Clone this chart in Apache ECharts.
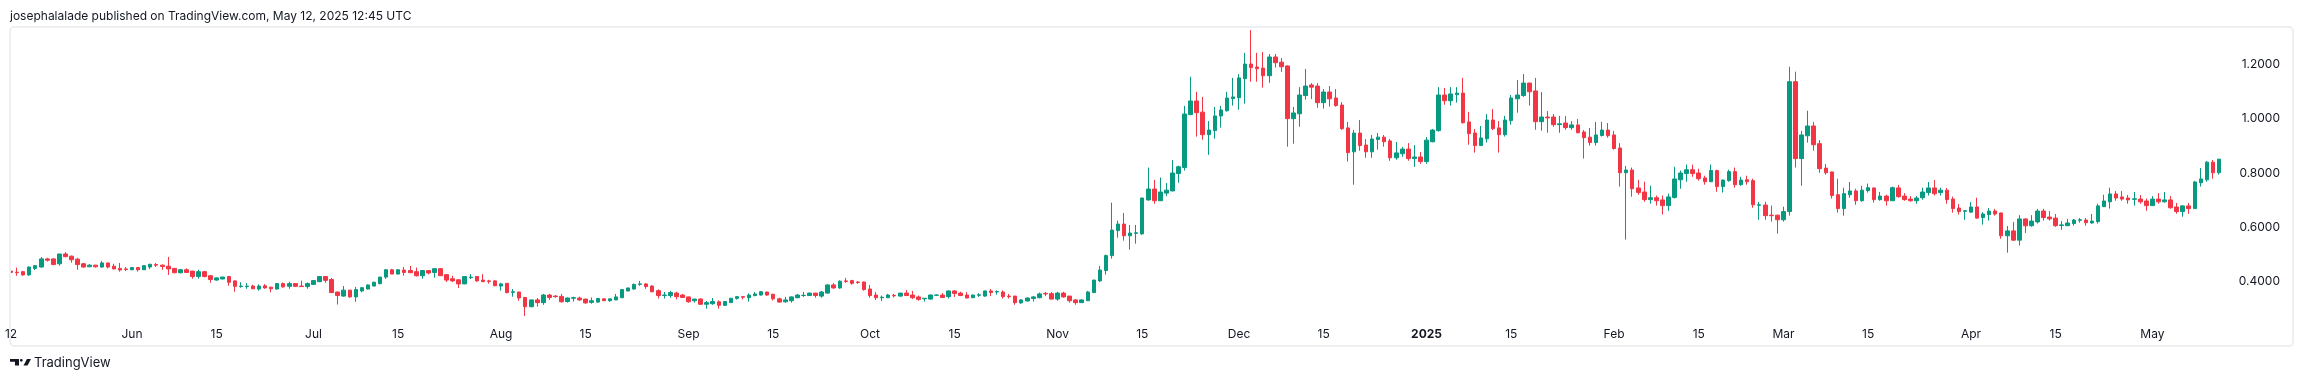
<!DOCTYPE html>
<html><head><meta charset="utf-8">
<script src="https://cdn.jsdelivr.net/npm/echarts@6/dist/echarts.min.js"></script>
<style>html,body{margin:0;padding:0;background:#fff}#c{width:2304px;height:382px}</style>
</head><body><div id="c"></div>
<script>
// Daily candles, 2024-05-12 .. 2025-05-12
const startDate = '2024-05-12';
const open = [
0.439,0.435,0.437,0.425,0.449,0.454,0.484,0.484,0.466,0.502,
0.494,0.483,0.466,0.455,0.461,0.454,0.469,0.457,0.449,0.447,
0.444,0.452,0.444,0.454,0.463,0.461,0.457,0.449,0.433,0.444,
0.439,0.419,0.437,0.422,0.406,0.410,0.419,0.403,0.382,0.382,
0.384,0.373,0.385,0.380,0.373,0.393,0.383,0.393,0.384,0.382,
0.390,0.400,0.419,0.408,0.362,0.347,0.369,0.344,0.366,0.373,
0.384,0.393,0.417,0.444,0.428,0.443,0.441,0.437,0.422,0.441,
0.434,0.448,0.426,0.411,0.407,0.392,0.415,0.419,0.406,0.403,
0.403,0.384,0.394,0.361,0.362,0.342,0.308,0.333,0.323,0.351,
0.347,0.346,0.327,0.339,0.340,0.336,0.324,0.325,0.337,0.330,
0.333,0.341,0.366,0.373,0.390,0.392,0.384,0.367,0.349,0.349,
0.358,0.351,0.344,0.330,0.336,0.317,0.319,0.326,0.313,0.323,
0.339,0.345,0.341,0.349,0.351,0.362,0.354,0.337,0.326,0.330,
0.341,0.349,0.349,0.358,0.347,0.358,0.388,0.377,0.403,0.404,
0.399,0.399,0.373,0.351,0.341,0.341,0.350,0.347,0.358,0.351,
0.344,0.337,0.336,0.350,0.351,0.345,0.366,0.358,0.351,0.341,
0.350,0.347,0.366,0.362,0.362,0.347,0.347,0.322,0.329,0.338,
0.341,0.357,0.356,0.336,0.358,0.347,0.333,0.323,0.330,0.360,
0.403,0.441,0.496,0.588,0.612,0.569,0.578,0.576,0.701,0.741,
0.698,0.726,0.734,0.798,0.820,1.015,1.065,1.024,0.941,0.956,
1.010,1.029,1.074,1.077,1.147,1.201,1.190,1.186,1.158,1.227,
1.208,1.194,1.000,1.018,1.085,1.124,1.120,1.059,1.098,1.076,
1.050,0.966,0.878,0.947,0.903,0.878,0.923,0.932,0.918,0.856,
0.871,0.888,0.853,0.859,0.842,0.915,0.956,1.087,1.066,1.088,
1.094,0.988,0.947,0.901,0.926,0.995,0.966,0.941,0.993,1.073,
1.085,1.131,1.102,0.989,1.006,1.006,0.978,0.984,0.967,0.977,
0.951,0.932,0.912,0.938,0.958,0.940,0.892,0.801,0.811,0.745,
0.730,0.702,0.709,0.701,0.680,0.710,0.775,0.798,0.812,0.800,
0.782,0.768,0.809,0.750,0.772,0.805,0.757,0.775,0.772,0.681,
0.682,0.645,0.645,0.628,0.658,1.136,0.853,0.937,0.973,0.908,
0.818,0.804,0.720,0.669,0.720,0.734,0.698,0.735,0.745,0.702,
0.715,0.698,0.745,0.715,0.704,0.698,0.709,0.728,0.745,0.728,
0.737,0.704,0.671,0.659,0.656,0.675,0.636,0.647,0.660,0.653,
0.569,0.587,0.553,0.631,0.606,0.620,0.660,0.638,0.634,0.607,
0.606,0.614,0.626,0.627,0.616,0.621,0.676,0.694,0.723,0.712,
0.708,0.703,0.704,0.697,0.680,0.704,0.694,0.701,0.675,0.658,
0.679,0.669,0.764,0.775,0.840,0.801];
const high = [
0.440,0.452,0.440,0.456,0.461,0.491,0.488,0.486,0.502,0.509,
0.496,0.488,0.469,0.465,0.462,0.476,0.470,0.466,0.469,0.454,
0.454,0.454,0.461,0.466,0.469,0.463,0.491,0.450,0.447,0.449,
0.440,0.444,0.439,0.424,0.416,0.418,0.421,0.405,0.398,0.395,
0.389,0.390,0.391,0.381,0.395,0.397,0.400,0.395,0.404,0.397,
0.406,0.420,0.421,0.414,0.363,0.384,0.370,0.381,0.380,0.390,
0.400,0.418,0.447,0.447,0.446,0.454,0.458,0.452,0.443,0.443,
0.448,0.450,0.427,0.422,0.408,0.420,0.428,0.421,0.428,0.407,
0.405,0.396,0.395,0.373,0.363,0.344,0.334,0.340,0.355,0.355,
0.351,0.355,0.342,0.345,0.345,0.337,0.342,0.340,0.339,0.338,
0.355,0.372,0.378,0.393,0.403,0.394,0.387,0.372,0.362,0.366,
0.363,0.355,0.345,0.337,0.339,0.329,0.340,0.331,0.329,0.340,
0.347,0.346,0.357,0.362,0.366,0.363,0.355,0.341,0.344,0.346,
0.355,0.362,0.360,0.359,0.366,0.391,0.395,0.405,0.414,0.407,
0.402,0.400,0.388,0.362,0.349,0.355,0.355,0.359,0.369,0.366,
0.349,0.340,0.353,0.353,0.358,0.367,0.369,0.363,0.362,0.353,
0.358,0.367,0.373,0.368,0.368,0.355,0.348,0.335,0.342,0.347,
0.360,0.362,0.362,0.363,0.363,0.348,0.336,0.336,0.366,0.407,
0.458,0.500,0.691,0.625,0.653,0.609,0.609,0.709,0.820,0.775,
0.783,0.763,0.848,0.827,1.047,1.154,1.099,1.080,0.991,1.043,
1.047,1.099,1.150,1.164,1.242,1.326,1.242,1.245,1.238,1.238,
1.223,1.196,1.043,1.116,1.183,1.131,1.131,1.109,1.120,1.109,
1.061,0.988,0.958,0.995,0.925,0.940,0.947,0.940,0.925,0.914,
0.896,0.910,0.903,0.877,0.932,0.962,1.116,1.113,1.116,1.116,
1.150,1.025,0.962,0.973,1.017,1.035,0.991,1.010,1.087,1.142,
1.164,1.132,1.150,1.098,1.028,1.017,1.010,1.010,0.991,0.999,
0.958,0.966,0.988,0.988,0.984,0.955,0.910,0.826,0.820,0.775,
0.768,0.753,0.717,0.717,0.724,0.823,0.809,0.831,0.831,0.816,
0.790,0.831,0.812,0.776,0.812,0.820,0.786,0.790,0.779,0.694,
0.694,0.680,0.646,0.676,1.191,1.173,0.955,1.029,0.988,0.921,
0.833,0.805,0.779,0.746,0.767,0.742,0.753,0.761,0.746,0.730,
0.720,0.750,0.756,0.726,0.715,0.715,0.746,0.767,0.774,0.746,
0.745,0.713,0.686,0.664,0.693,0.709,0.656,0.671,0.668,0.654,
0.605,0.620,0.645,0.633,0.645,0.668,0.668,0.660,0.649,0.623,
0.631,0.631,0.634,0.634,0.649,0.687,0.720,0.746,0.734,0.734,
0.719,0.730,0.719,0.706,0.715,0.726,0.730,0.715,0.690,0.681,
0.690,0.771,0.818,0.844,0.848,0.852];
const low = [
0.433,0.422,0.422,0.422,0.443,0.452,0.474,0.461,0.459,0.490,
0.470,0.444,0.452,0.454,0.452,0.451,0.449,0.446,0.437,0.439,
0.442,0.437,0.443,0.447,0.454,0.444,0.425,0.431,0.430,0.432,
0.411,0.411,0.416,0.396,0.404,0.409,0.385,0.363,0.378,0.374,
0.372,0.367,0.374,0.361,0.371,0.378,0.374,0.381,0.382,0.374,
0.388,0.399,0.396,0.360,0.316,0.345,0.341,0.326,0.361,0.372,
0.383,0.390,0.410,0.428,0.427,0.422,0.432,0.419,0.411,0.427,
0.415,0.421,0.399,0.399,0.377,0.391,0.410,0.400,0.399,0.393,
0.384,0.367,0.357,0.345,0.330,0.274,0.306,0.308,0.315,0.333,
0.341,0.323,0.323,0.327,0.329,0.319,0.319,0.323,0.329,0.326,
0.332,0.340,0.364,0.371,0.385,0.374,0.361,0.338,0.338,0.341,
0.335,0.341,0.323,0.323,0.315,0.301,0.315,0.301,0.311,0.322,
0.334,0.335,0.327,0.346,0.349,0.348,0.331,0.323,0.323,0.323,
0.339,0.344,0.348,0.341,0.341,0.356,0.374,0.374,0.396,0.389,
0.392,0.367,0.341,0.333,0.329,0.340,0.342,0.345,0.348,0.336,
0.330,0.327,0.334,0.349,0.340,0.338,0.344,0.347,0.339,0.340,
0.344,0.345,0.347,0.352,0.338,0.338,0.315,0.319,0.327,0.327,
0.339,0.347,0.335,0.330,0.341,0.323,0.315,0.322,0.329,0.358,
0.399,0.426,0.485,0.562,0.551,0.518,0.540,0.573,0.698,0.687,
0.697,0.715,0.733,0.764,0.809,1.013,0.934,0.923,0.867,0.926,
0.967,1.026,1.048,1.033,1.055,1.136,1.136,1.114,1.132,1.188,
1.172,0.897,0.908,0.970,1.070,1.072,1.040,1.037,1.044,1.044,
0.959,0.842,0.757,0.882,0.856,0.856,0.886,0.897,0.845,0.849,
0.860,0.845,0.823,0.834,0.834,0.913,0.952,1.051,1.048,1.059,
0.982,0.904,0.875,0.899,0.912,0.958,0.875,0.934,0.978,1.022,
1.080,1.048,0.959,0.956,0.948,0.970,0.948,0.959,0.959,0.947,
0.853,0.901,0.901,0.934,0.930,0.886,0.750,0.555,0.713,0.720,
0.694,0.687,0.680,0.647,0.661,0.706,0.742,0.768,0.786,0.772,
0.757,0.767,0.731,0.728,0.768,0.746,0.753,0.757,0.672,0.628,
0.628,0.621,0.577,0.621,0.643,0.820,0.753,0.912,0.882,0.801,
0.794,0.706,0.654,0.643,0.709,0.683,0.694,0.728,0.691,0.698,
0.680,0.697,0.709,0.698,0.694,0.687,0.702,0.717,0.717,0.717,
0.687,0.654,0.647,0.628,0.654,0.632,0.610,0.625,0.643,0.558,
0.507,0.551,0.533,0.579,0.602,0.614,0.625,0.625,0.602,0.591,
0.605,0.606,0.617,0.606,0.614,0.614,0.675,0.669,0.698,0.698,
0.687,0.680,0.687,0.661,0.679,0.687,0.691,0.669,0.650,0.639,
0.650,0.668,0.750,0.768,0.779,0.794];
const close = [
0.434,0.433,0.425,0.454,0.459,0.484,0.479,0.463,0.502,0.492,
0.481,0.463,0.454,0.461,0.455,0.469,0.454,0.447,0.443,0.445,
0.452,0.444,0.459,0.464,0.461,0.456,0.447,0.433,0.444,0.434,
0.419,0.437,0.419,0.408,0.414,0.417,0.398,0.383,0.384,0.384,
0.374,0.384,0.377,0.374,0.393,0.381,0.393,0.383,0.382,0.393,
0.404,0.419,0.405,0.360,0.349,0.369,0.344,0.371,0.378,0.388,
0.398,0.417,0.444,0.428,0.444,0.434,0.433,0.422,0.441,0.432,
0.448,0.422,0.406,0.403,0.392,0.419,0.417,0.403,0.400,0.401,
0.385,0.392,0.360,0.363,0.340,0.308,0.333,0.323,0.351,0.342,
0.345,0.326,0.340,0.341,0.333,0.322,0.330,0.338,0.330,0.337,
0.344,0.371,0.377,0.390,0.392,0.382,0.363,0.349,0.351,0.360,
0.345,0.342,0.326,0.336,0.317,0.323,0.327,0.313,0.327,0.339,
0.345,0.343,0.351,0.355,0.363,0.351,0.337,0.325,0.333,0.344,
0.351,0.350,0.358,0.349,0.362,0.388,0.377,0.402,0.401,0.394,
0.397,0.371,0.349,0.341,0.343,0.351,0.348,0.358,0.349,0.341,
0.335,0.339,0.351,0.351,0.342,0.366,0.357,0.349,0.340,0.351,
0.352,0.366,0.360,0.364,0.345,0.345,0.323,0.333,0.340,0.344,
0.355,0.355,0.336,0.358,0.344,0.330,0.323,0.333,0.362,0.406,
0.443,0.496,0.590,0.612,0.569,0.579,0.580,0.708,0.741,0.698,
0.730,0.737,0.800,0.823,1.017,1.065,1.022,0.941,0.958,1.010,
1.032,1.076,1.080,1.150,1.201,1.188,1.184,1.158,1.227,1.206,
1.191,1.000,1.021,1.087,1.120,1.116,1.059,1.098,1.073,1.048,
0.963,0.875,0.947,0.901,0.878,0.925,0.932,0.915,0.856,0.874,
0.888,0.853,0.859,0.842,0.921,0.958,1.087,1.066,1.091,1.094,
0.985,0.945,0.901,0.929,0.995,0.963,0.941,0.995,1.076,1.087,
1.131,1.099,0.989,1.006,1.003,0.978,0.981,0.967,0.977,0.948,
0.930,0.912,0.940,0.958,0.937,0.890,0.801,0.811,0.742,0.728,
0.702,0.709,0.698,0.680,0.712,0.778,0.800,0.812,0.798,0.779,
0.768,0.809,0.750,0.774,0.805,0.757,0.774,0.768,0.683,0.683,
0.643,0.643,0.628,0.658,1.136,0.853,0.940,0.973,0.904,0.816,
0.801,0.717,0.669,0.724,0.734,0.698,0.737,0.746,0.702,0.715,
0.698,0.746,0.713,0.702,0.698,0.708,0.730,0.745,0.724,0.737,
0.702,0.669,0.658,0.661,0.675,0.634,0.649,0.660,0.649,0.569,
0.587,0.553,0.631,0.606,0.623,0.660,0.636,0.631,0.606,0.609,
0.616,0.627,0.628,0.617,0.623,0.679,0.697,0.723,0.708,0.704,
0.701,0.705,0.694,0.680,0.704,0.694,0.701,0.672,0.658,0.679,
0.669,0.767,0.778,0.840,0.801,0.851];

const tickLabels = {
  '2024-05-12':'12','2024-06-01':'Jun','2024-06-15':'15','2024-07-01':'Jul','2024-07-15':'15',
  '2024-08-01':'Aug','2024-08-15':'15','2024-09-01':'Sep','2024-09-15':'15','2024-10-01':'Oct',
  '2024-10-15':'15','2024-11-01':'Nov','2024-11-15':'15','2024-12-01':'Dec','2024-12-15':'15',
  '2025-01-01':'2025','2025-01-15':'15','2025-02-01':'Feb','2025-02-15':'15','2025-03-01':'Mar',
  '2025-03-15':'15','2025-04-01':'Apr','2025-04-15':'15','2025-05-01':'May'
};
const priceTicks = [0.4, 0.6, 0.8, 1.0, 1.2];
const titleText = 'josephalalade published on TradingView.com, May 12, 2025 12:45 UTC';

// build category dates (consecutive days)
const dates = [];
{
  const d0 = new Date(startDate + 'T00:00:00Z');
  for (let i = 0; i < open.length; i++) {
    const d = new Date(d0.getTime() + i * 86400000);
    dates.push(d.toISOString().slice(0, 10));
  }
}
const ohlc = open.map((o, i) => [o, close[i], low[i], high[i]]);

const UP = '#089981', DOWN = '#F23645', TXT = '#131722';
const FONT = 'Inter, Roboto, "Noto Sans", sans-serif';

const chart = echarts.init(document.getElementById('c'), null, {renderer: 'canvas'});
chart.setOption({
  animation: false,
  backgroundColor: '#ffffff',
  textStyle: {fontFamily: FONT},
  grid: {left: 8, width: 2214, top: 27, height: 295, containLabel: false},
  xAxis: {
    type: 'category', data: dates, boundaryGap: true,
    axisLine: {show: false}, axisTick: {show: false}, splitLine: {show: false},
    axisLabel: {
      interval: (idx, val) => Object.prototype.hasOwnProperty.call(tickLabels, val),
      formatter: (val) => val === '2025-01-01' ? '{b|2025}' : (tickLabels[val] || ''),
      color: TXT, fontSize: 12, fontFamily: FONT, margin: 6,
      rich: {b: {fontWeight: 'bold', fontSize: 12, color: TXT, fontFamily: FONT}}
    }
  },
  yAxis: {
    type: 'value', position: 'right', scale: true,
    min: 0.2517, max: 1.3373,
    axisLine: {show: false}, axisTick: {show: false}, splitLine: {show: false},
    axisLabel: {
      customValues: priceTicks,
      formatter: (v) => v.toFixed(4),
      color: TXT, fontSize: 12, fontFamily: FONT, align: 'right', margin: 58
    }
  },
  series: [{
    type: 'candlestick', data: ohlc, barWidth: 4,
    itemStyle: {color: UP, color0: DOWN, borderColor: UP, borderColor0: DOWN, borderWidth: 1}
  }],
  graphic: [
    {type: 'text', left: 10, top: 10, z: 10,
     style: {text: titleText, fill: TXT, font: '12px ' + FONT}},
    {type: 'rect', shape: {x: 0, y: 26, width: 10, height: 300}, style: {fill: '#ffffff'}, z: 50},
    {type: 'rect', shape: {x: 10, y: 27, width: 2283, height: 319, r: 4},
     style: {fill: 'none', stroke: '#eeeff1', lineWidth: 2}, z: 60},
    {type: 'polygon', shape: {points: [[10,359],[19,359],[19,365.5],[15,365.5],[15,361.8],[10,361.8]]},
     style: {fill: TXT}, z: 10},
    {type: 'circle', shape: {cx: 21.3, cy: 360.3, r: 1.4}, style: {fill: TXT}, z: 10},
    {type: 'polygon', shape: {points: [[27,359],[31,359],[27.5,365.5],[23.5,365.5]]},
     style: {fill: TXT}, z: 10},
    {type: 'text', left: 34, top: 356.5, z: 10,
     style: {text: 'TradingView', fill: TXT, font: '13px ' + FONT}}
  ]
});
</script>
</body></html>
